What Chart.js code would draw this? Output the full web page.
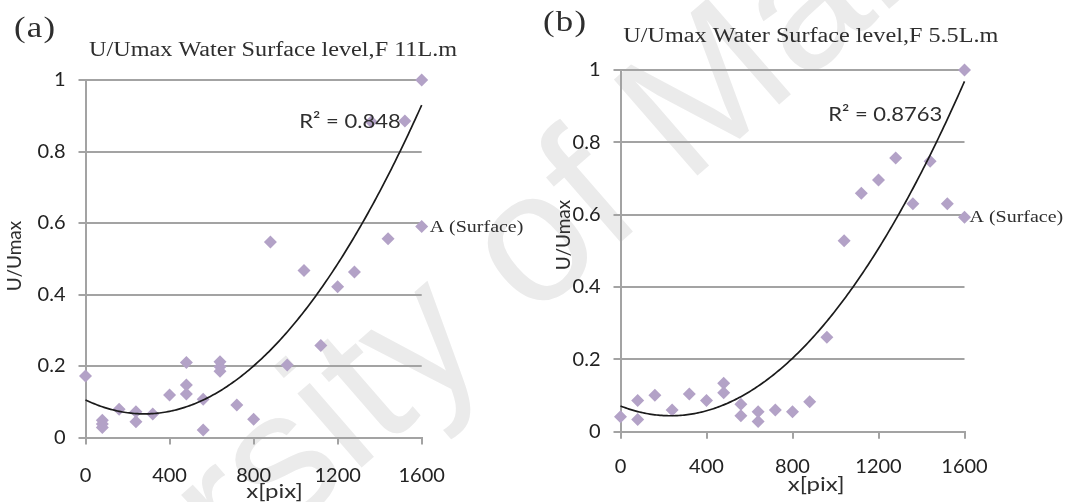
<!DOCTYPE html>
<html>
<head>
<meta charset="utf-8">
<title>U/Umax Water Surface level</title>
<script src="https://cdn.jsdelivr.net/npm/chart.js@4.4.1/dist/chart.umd.min.js"></script>
<style>
  html, body { margin: 0; padding: 0; background: #fff; }
  body { width: 1071px; height: 502px; position: relative; overflow: hidden; }
  #mark { position: absolute; left: 0; top: 0; }
  .panel { position: absolute; top: 0; height: 502px; }
  #panelA { left: 0; width: 535px; }
  #panelB { left: 535px; width: 536px; }
  canvas { display: block; }
</style>
</head>
<body>
<canvas id="mark" width="1071" height="502"></canvas>
<div class="panel" id="panelA"><canvas id="chartA" width="535" height="502"></canvas></div>
<div class="panel" id="panelB"><canvas id="chartB" width="536" height="502"></canvas></div>
<script>
// Axis ticks shared by both panels
const xTicks = [0, 400, 800, 1200, 1600];
const xTickLabels = ['0', '400', '800', '1200', '1600'];
const yTicks = [0, 0.2, 0.4, 0.6, 0.8, 1];
const yTickLabels = ['0', '0.2', '0.4', '0.6', '0.8', '1'];

// Panel (a): flow 11 L/m, position along the surface [pix] and U/Umax
const xA = [0, 80, 80, 80, 160, 240, 240, 320, 400, 480, 480, 480, 560, 560, 640, 640, 640,
            720, 800, 880, 960, 1040, 1120, 1200, 1280, 1360, 1440, 1520, 1600, 1600];
const uA = [0.172, 0.048, 0.038, 0.028, 0.079, 0.072, 0.044, 0.066, 0.119, 0.21, 0.147, 0.122,
            0.107, 0.021, 0.212, 0.198, 0.185, 0.091, 0.051, 0.547, 0.203, 0.467, 0.257, 0.422,
            0.463, 0.883, 0.556, 0.885, 1.0, 0.59];
// Polynomial trendline (order 2) of panel (a): u = c0 + c1*t + c2*t^2, t = x / 1000
const trendA = [0.105, -0.278, 0.496];

// Panel (b): flow 5.5 L/m
const xB = [0, 80, 80, 160, 240, 320, 400, 480, 480, 560, 560, 640, 640, 720, 800, 880, 960,
            1040, 1120, 1200, 1280, 1360, 1440, 1520, 1600, 1600];
const uB = [0.041, 0.086, 0.034, 0.101, 0.060, 0.104, 0.086, 0.134, 0.108, 0.076, 0.044, 0.055,
            0.028, 0.060, 0.055, 0.083, 0.261, 0.528, 0.659, 0.696, 0.757, 0.630, 0.748, 0.630,
            1.0, 0.593];
const trendB = [0.071, -0.231, 0.495];

const MARKER = '#b3a2c7';
const GRID = '#a3a3a3';
const TICK_COLOR = '#222222';
const TEXT_COLOR = '#2e2e2e';
const SANS = 'Lato, "Open Sans", sans-serif';
const SERIF = '"Liberation Serif", "Times New Roman", serif';

// Faint diagonal repository watermark behind both panels
(function drawWatermark() {
  const ctx = document.getElementById('mark').getContext('2d');
  ctx.save();
  ctx.translate(-121, 887);
  ctx.rotate(-41 * Math.PI / 180);
  ctx.font = '185px "Liberation Sans", Arial, sans-serif';
  ctx.fillStyle = '#ebebeb';
  ctx.textBaseline = 'alphabetic';
  ctx.fillText('University of Malaya', 0, 0);
  ctx.restore();
})();

// Draws the trendline polynomial through the chart's own scales
const trendPlugin = {
  id: 'trend',
  afterDatasetsDraw(chart, args, o) {
    const { ctx, scales: { x, y } } = chart;
    const c = o.coef;
    const steps = 200;
    ctx.save();
    ctx.beginPath();
    for (let i = 0; i <= steps; i++) {
      const xv = o.from + (o.to - o.from) * i / steps;
      const t = xv / 1000;
      const px = x.getPixelForValue(xv);
      const py = y.getPixelForValue(c[0] + c[1] * t + c[2] * t * t);
      if (i === 0) ctx.moveTo(px, py); else ctx.lineTo(px, py);
    }
    ctx.strokeStyle = '#1b1b1b';
    ctx.lineWidth = 1.7;
    ctx.stroke();
    ctx.restore();
  }
};

// Panel letter, title, axis titles and annotations
const textPlugin = {
  id: 'panelText',
  afterDraw(chart, args, o) {
    const { ctx, chartArea, scales: { x, y } } = chart;
    const put = (text, px, py, font, align, baseline, sx, rot, spacing) => {
      ctx.save();
      ctx.translate(px, py);
      if (rot) ctx.rotate(rot);
      ctx.scale(sx || 1, 1);
      ctx.font = font;
      ctx.fillStyle = TEXT_COLOR;
      ctx.textAlign = align;
      ctx.textBaseline = baseline;
      if (spacing) ctx.letterSpacing = spacing;
      ctx.fillText(text, 0, 0);
      ctx.restore();
    };
    put(o.letter.text, o.letter.x, o.letter.y, '29px ' + SERIF, 'left', 'alphabetic', 1.2, 0, '1px');
    put(o.title.text, o.title.x, o.title.y, '20px ' + SERIF, 'left', 'alphabetic', 1.21);
    put('U/Umax', o.yTitle.x, o.yTitle.y, '19px ' + SANS, 'center', 'middle', 1, -Math.PI / 2);
    put('x[pix]', x.getPixelForValue(o.xTitle.at), chartArea.bottom + o.xTitle.dy,
        '20px ' + SANS, 'center', 'middle', 1.2);
    put(o.r2.text, x.getPixelForValue(o.r2.x), y.getPixelForValue(o.r2.y) + 8,
        '20px ' + SANS, 'right', 'alphabetic', 1.1);
    const pts = chart.getDatasetMeta(0).data;
    const pt = pts[pts.length - 1];
    put('A (Surface)', pt.x + o.surface.dx, pt.y + o.surface.dy, '16.5px ' + SERIF,
        'left', 'alphabetic', 1.21);
  }
};

function buildPanel(canvasId, xs, us, coef, p) {
  return new Chart(document.getElementById(canvasId), {
    type: 'scatter',
    data: {
      datasets: [{
        data: xs.map((xv, i) => ({ x: xv, y: us[i] })),
        pointStyle: 'rectRot',
        pointRadius: 6.5,
        backgroundColor: MARKER,
        borderColor: MARKER,
        borderWidth: 0,
        clip: false
      }]
    },
    options: {
      responsive: false,
      animation: false,
      devicePixelRatio: 1,
      events: [],
      layout: { padding: { left: 0, top: p.top, right: p.right, bottom: 0 } },
      plugins: {
        legend: { display: false },
        tooltip: { enabled: false },
        title: { display: false },
        trend: { coef, from: Math.min(...xs), to: Math.max(...xs) },
        panelText: p.text
      },
      scales: {
        x: {
          type: 'linear',
          min: xTicks[0],
          max: xTicks[xTicks.length - 1],
          afterBuildTicks: s => { s.ticks = xTicks.map(v => ({ value: v })); },
          grid: { drawOnChartArea: false, drawTicks: true, tickLength: 7, color: GRID, lineWidth: 2 },
          border: { display: true, color: GRID, width: 2 },
          ticks: {
            callback: (v, i) => xTickLabels[i],
            font: { family: SANS, size: 20 },
            color: TICK_COLOR,
            padding: p.xPad,
            maxRotation: 0,
            autoSkip: false
          },
          afterFit: s => { s.height = p.xAxisHeight; }
        },
        y: {
          type: 'linear',
          min: yTicks[0],
          max: yTicks[yTicks.length - 1],
          afterBuildTicks: s => { s.ticks = yTicks.map(v => ({ value: v })); },
          grid: { color: GRID, lineWidth: 2, drawTicks: true, tickLength: 7 },
          border: { display: true, color: GRID, width: 2 },
          ticks: {
            callback: (v, i) => yTickLabels[i],
            font: { family: SANS, size: 20 },
            color: TICK_COLOR,
            padding: 13
          },
          afterFit: s => { s.width = p.yAxisWidth; }
        }
      }
    },
    plugins: [trendPlugin, textPlugin]
  });
}

buildPanel('chartA', xA, uA, trendA, {
  top: 80, right: 113.3, yAxisWidth: 85.5, xAxisHeight: 64.5, xPad: 19,
  text: {
    letter: { text: '(a)', x: 14, y: 36.5 },
    title: { text: 'U/Umax Water Surface level,F 11L.m', x: 89, y: 55.5 },
    yTitle: { x: 15, y: 256 },
    xTitle: { at: 900, dy: 54 },
    r2: { text: 'R² = 0.848', x: 1500, y: 0.889 },
    surface: { dx: 8, dy: 5.5 }
  }
});

buildPanel('chartB', xB, uB, trendB, {
  top: 70, right: 106.5, yAxisWidth: 85.5, xAxisHeight: 70.3, xPad: 16,
  text: {
    letter: { text: '(b)', x: 8, y: 31 },
    title: { text: 'U/Umax Water Surface level,F 5.5L.m', x: 88.3, y: 42 },
    yTitle: { x: 29, y: 235 },
    xTitle: { at: 910, dy: 53.3 },
    r2: { text: 'R² = 0.8763', x: 1497, y: 0.881 },
    surface: { dx: 5, dy: 4.5 }
  }
});
</script>
</body>
</html>
